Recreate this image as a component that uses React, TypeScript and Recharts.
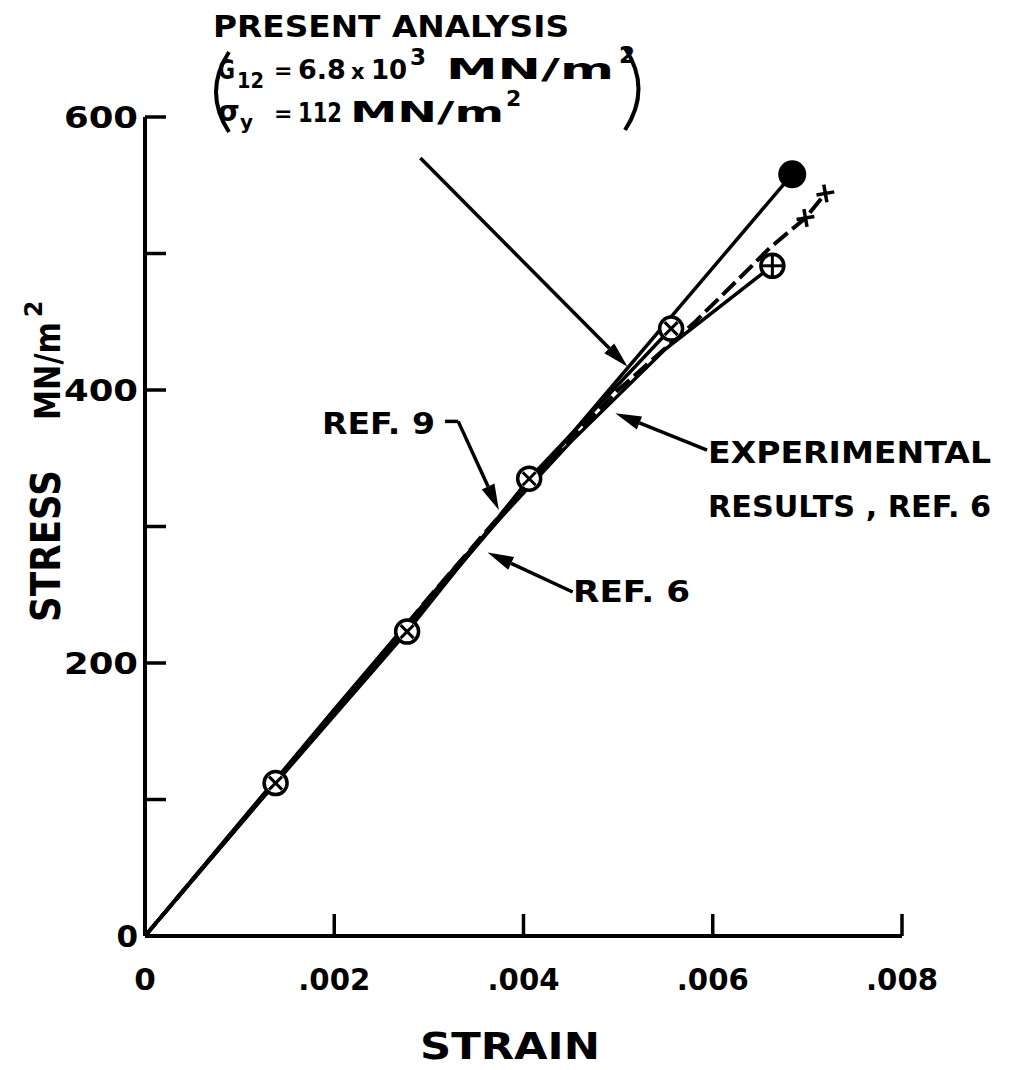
import { LineChart, Line, XAxis, YAxis, ReferenceLine } from "recharts";

// strain / stress
const strainTicks = [0, 0.002, 0.004, 0.006, 0.008];
const stressTicks = [0, 100, 200, 300, 400, 500, 600];
const stressLabels = [0, 200, 400, 600];

const presentAnalysis = [
  { strain: 0, stress: 0 },
  { strain: 0.00684, stress: 558 },
];

const ref9 = [
  { strain: 0, stress: 0 },
  { strain: 0.00138, stress: 112 },
  { strain: 0.00277, stress: 223 },
  { strain: 0.00406, stress: 335 },
  { strain: 0.00556, stress: 445 },
];

const experimental = [
  { strain: 0, stress: 0 },
  { strain: 0.001, stress: 82 },
  { strain: 0.002, stress: 164 },
  { strain: 0.003, stress: 248 },
  { strain: 0.004, stress: 328 },
  { strain: 0.005, stress: 400 },
  { strain: 0.0058, stress: 449 },
  { strain: 0.0064, stress: 490 },
  { strain: 0.0066, stress: 504 },
  { strain: 0.00698, stress: 526 },
  { strain: 0.00719, stress: 544 },
];

const ref6 = [
  { strain: 0, stress: 0 },
  { strain: 0.002, stress: 166 },
  { strain: 0.0033, stress: 272 },
  { strain: 0.0045, stress: 362 },
  { strain: 0.0055, stress: 430 },
  { strain: 0.00663, stress: 491 },
];

// annotation arrows, in data units [from, to]
const presentArrow = [{ x: 0.00291, y: 570 }, { x: 0.0051, y: 417 }];
const ref9Hook = [{ x: 0.00317, y: 377 }, { x: 0.00331, y: 377 }];
const ref9Arrow = [{ x: 0.00331, y: 377 }, { x: 0.00374, y: 312 }];
const expArrow = [{ x: 0.00594, y: 356 }, { x: 0.00497, y: 383 }];
const ref6Arrow = [{ x: 0.00452, y: 252 }, { x: 0.00362, y: 281 }];

const W = 1008;
const H = 1054;
const FONT = "'DejaVu Sans', sans-serif";
const INK = "#000";

const XTick = (props: any) => {
  const { x, y, payload } = props;
  const v = payload.value;
  const label = v === 0 ? "0" : v.toFixed(3).replace(/^0/, "");
  return (
    <g>
      {v !== 0 && <line x1={x} y1={y} x2={x} y2={y - 22} stroke={INK} strokeWidth={3.5} />}
      <text
        x={x}
        y={y + 54}
        textAnchor="middle"
        fontFamily={FONT}
        fontWeight="bold"
        fontSize={31}
        fill={INK}
        {...(v === 0 ? {} : { textLength: 72, lengthAdjust: "spacingAndGlyphs" })}
      >
        {label}
      </text>
    </g>
  );
};

const YTick = (props: any) => {
  const { x, y, payload } = props;
  const v = payload.value;
  return (
    <g>
      {v !== 0 && <line x1={x} y1={y} x2={x + 21} y2={y} stroke={INK} strokeWidth={3.5} />}
      {stressLabels.includes(v) && (
        <text
          x={x - 7}
          y={y + 11}
          textAnchor="end"
          fontFamily={FONT}
          fontWeight="bold"
          fontSize={31}
          fill={INK}
          {...(v === 0 ? {} : { textLength: 74, lengthAdjust: "spacingAndGlyphs" })}
        >
          {v}
        </text>
      )}
    </g>
  );
};

const Arrow = (props: any) => {
  const { x1, y1, x2, y2 } = props;
  const a = Math.atan2(y2 - y1, x2 - x1);
  const len = 26;
  const hw = 7;
  const bx = x2 - len * Math.cos(a);
  const by = y2 - len * Math.sin(a);
  const px = -Math.sin(a) * hw;
  const py = Math.cos(a) * hw;
  return (
    <g>
      <line x1={x1} y1={y1} x2={bx} y2={by} stroke={INK} strokeWidth={3.5} />
      <polygon points={`${x2},${y2} ${bx + px},${by + py} ${bx - px},${by - py}`} fill={INK} />
    </g>
  );
};

const Plain = (props: any) => {
  const { x1, y1, x2, y2 } = props;
  return <line x1={x1} y1={y1} x2={x2} y2={y2} stroke={INK} strokeWidth={3.5} />;
};

const crossCircle = (p: any) => {
  if (p.index === 0) return <g key={`cc${p.index}`} />;
  const { cx, cy } = p;
  const d = 6.5;
  return (
    <g key={`cc${p.index}`}>
      <circle cx={cx} cy={cy} r={11.5} fill="#fff" stroke={INK} strokeWidth={3.5} />
      <line x1={cx - d} y1={cy - d} x2={cx + d} y2={cy + d} stroke={INK} strokeWidth={3} />
      <line x1={cx - d} y1={cy + d} x2={cx + d} y2={cy - d} stroke={INK} strokeWidth={3} />
    </g>
  );
};

const plusCircle = (p: any) => {
  if (p.index !== ref6.length - 1) return <g key={`pc${p.index}`} />;
  const { cx, cy } = p;
  return (
    <g key={`pc${p.index}`}>
      <circle cx={cx} cy={cy} r={11.5} fill="#fff" stroke={INK} strokeWidth={3.5} />
      <line x1={cx - 11} y1={cy} x2={cx + 11} y2={cy} stroke={INK} strokeWidth={3} />
      <line x1={cx} y1={cy - 11} x2={cx} y2={cy + 11} stroke={INK} strokeWidth={3} />
    </g>
  );
};

const filledDot = (p: any) => {
  if (p.index !== presentAnalysis.length - 1) return <g key={`fd${p.index}`} />;
  return <circle key={`fd${p.index}`} cx={p.cx} cy={p.cy} r={14} fill={INK} />;
};

const plusMark = (p: any) => {
  if (p.index < experimental.length - 2) return <g key={`pm${p.index}`} />;
  const { cx, cy } = p;
  return (
    <g key={`pm${p.index}`} transform={`rotate(-10 ${cx} ${cy})`}>
      <line x1={cx - 9} y1={cy} x2={cx + 9} y2={cy} stroke={INK} strokeWidth={3.5} />
      <line x1={cx} y1={cy - 9} x2={cx} y2={cy + 9} stroke={INK} strokeWidth={3.5} />
    </g>
  );
};

const Label = ({ x, y, size = 31, len, anchor = "start", children }: any) => (
  <text
    x={x}
    y={y}
    fontFamily={FONT}
    fontWeight="bold"
    fontSize={size}
    fill={INK}
    textAnchor={anchor}
    {...(len ? { textLength: len, lengthAdjust: "spacingAndGlyphs" } : {})}
  >
    {children}
  </text>
);

export default function App() {
  return (
    <div style={{ position: "relative", width: W, height: H, background: "#fff" }}>
      <LineChart width={W} height={H} margin={{ top: 109, right: 114, bottom: 66, left: 77 }}>
        <XAxis
          type="number"
          dataKey="strain"
          domain={[0, 0.008]}
          ticks={strainTicks}
          allowDataOverflow
          height={60}
          tickSize={0}
          tickMargin={0}
          tickLine={false}
          axisLine={{ stroke: INK, strokeWidth: 4 }}
          tick={<XTick />}
        />
        <YAxis
          type="number"
          dataKey="stress"
          domain={[0, 600]}
          ticks={stressTicks}
          allowDataOverflow
          width={60}
          tickSize={0}
          tickMargin={0}
          tickLine={false}
          axisLine={{ stroke: INK, strokeWidth: 4 }}
          tick={<YTick />}
        />
        <Line data={ref6} dataKey="stress" type="linear" stroke={INK} strokeWidth={3.5} dot={plusCircle} isAnimationActive={false} />
        <Line data={experimental} dataKey="stress" type="linear" stroke={INK} strokeWidth={4} strokeDasharray="18 6" dot={plusMark} isAnimationActive={false} />
        <Line data={presentAnalysis} dataKey="stress" type="linear" stroke={INK} strokeWidth={3.5} dot={filledDot} isAnimationActive={false} />
        <Line data={ref9} dataKey="stress" type="linear" stroke={INK} strokeWidth={3.5} dot={crossCircle} isAnimationActive={false} />
        <ReferenceLine segment={presentArrow} ifOverflow="visible" shape={<Arrow />} />
        <ReferenceLine segment={ref9Hook} ifOverflow="visible" shape={<Plain />} />
        <ReferenceLine segment={ref9Arrow} ifOverflow="visible" shape={<Arrow />} />
        <ReferenceLine segment={expArrow} ifOverflow="visible" shape={<Arrow />} />
        <ReferenceLine segment={ref6Arrow} ifOverflow="visible" shape={<Arrow />} />
      </LineChart>
      <svg
        width={W}
        height={H}
        style={{ position: "absolute", left: 0, top: 0, pointerEvents: "none", overflow: "visible" }}
      >
        <g transform="translate(-8,-8)">
          <Label x={213} y={37} len={356}>PRESENT ANALYSIS</Label>
          <path d="M229,52 Q203,92 229,132" fill="none" stroke={INK} strokeWidth={4} />
          <path d="M625,48 Q652,89 625,130" fill="none" stroke={INK} strokeWidth={4} />
          <Label x={218} y={79} size={26} len={17}>G</Label>
          <Label x={237} y={88} size={21} len={27}>12</Label>
          <Label x={274} y={78} size={22}>=</Label>
          <Label x={298} y={79} size={27}>6.8</Label>
          <Label x={351} y={79} size={21}>x</Label>
          <Label x={371} y={79} size={26}>10</Label>
          <Label x={410} y={65} size={23}>3</Label>
          <Label x={446} y={79} size={29} len={168}>MN/m</Label>
          <Label x={619} y={63} size={23}>2</Label>
          <Label x={218} y={121} size={28}>σ</Label>
          <Label x={240} y={129} size={20}>y</Label>
          <Label x={274} y={121} size={22}>=</Label>
          <Label x={298} y={122} size={27} len={44}>112</Label>
          <Label x={350} y={122} size={29} len={154}>MN/m</Label>
          <Label x={506} y={106} size={22}>2</Label>

          <Label x={322} y={434} size={31} len={113}>REF. 9</Label>
          <Label x={708} y={463} size={31} len={283}>EXPERIMENTAL</Label>
          <Label x={708} y={517} size={31} len={283}>RESULTS , REF. 6</Label>
          <Label x={573} y={602} size={31} len={117}>REF. 6</Label>

          <Label x={510} y={1059} size={38} len={180} anchor="middle">STRAIN</Label>
          <g transform="translate(60,546) rotate(-90)">
            <Label x={0} y={0} size={40} len={152} anchor="middle">STRESS</Label>
          </g>
          <g transform="translate(60,371) rotate(-90)">
            <Label x={0} y={0} size={36} len={98} anchor="middle">MN/m</Label>
          </g>
          <g transform="translate(42,309) rotate(-90)">
            <Label x={0} y={0} size={24} anchor="middle">2</Label>
          </g>
        </g>
      </svg>
    </div>
  );
}
